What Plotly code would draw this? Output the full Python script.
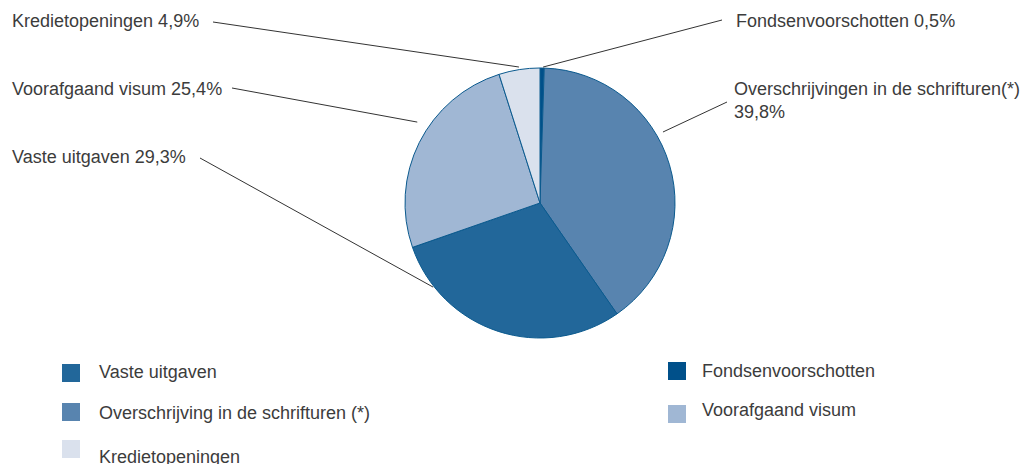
import math
import plotly.graph_objects as go

# ---- data ----
slice_labels = ["Fondsenvoorschotten", "Overschrijvingen in de schrifturen(*)", "Vaste uitgaven",
                "Voorafgaand visum", "Kredietopeningen"]
slice_values = [0.5, 39.8, 29.3, 25.4, 4.9]
slice_colors = ["#00508A", "#5884AF", "#22679A", "#A0B7D4", "#DAE1ED"]
value_text = ["0,5%", "39,8%", "29,3%", "25,4%", "4,9%"]

legend_labels = ["Vaste uitgaven", "Fondsenvoorschotten", "Overschrijving in de schrifturen (*)",
                 "Voorafgaand visum", "Kredietopeningen"]
legend_colors = ["#22679A", "#00508A", "#5884AF", "#A0B7D4", "#DAE1ED"]

# ---- layout (pixel geometry) ----
W, H = 1033, 464
CX, CY, R = 540, 203, 135
FONT = "Liberation Sans, Arial, sans-serif"
FS = 18
TXT = "#3c3c3c"

label_pos = [(734, 21), (732, 100), (10, 157), (10, 89), (10, 21)]
line_start = [(722, 20), (727, 102), (200, 158), (232, 88), (213, 22)]
anchor = [(1.3, 136), (60, 142), (231.8, 136), (303.4, 147), (351.2, 137.6)]

fig = go.Figure()
fig.add_trace(go.Pie(
    labels=slice_labels, values=slice_values, sort=False, direction="clockwise", rotation=0,
    marker=dict(colors=slice_colors, line=dict(color="#0B5A8E", width=1)),
    textinfo="none", hoverinfo="label+percent", showlegend=False,
    domain=dict(x=[(CX - R) / W, (CX + R) / W], y=[1 - (CY + R) / H, 1 - (CY - R) / H]),
))

shapes = []
annotations = []
for i, lab in enumerate(slice_labels):
    ang, rr = anchor[i]
    ex = CX + rr * math.sin(math.radians(ang))
    ey = CY - rr * math.cos(math.radians(ang))
    sx, sy = line_start[i]
    shapes.append(dict(type="line", xref="x", yref="y", x0=sx, y0=sy, x1=ex, y1=ey,
                       line=dict(color="#333333", width=1)))
    tx, ty = label_pos[i]
    text = lab + ("<br>" if i == 1 else " ") + value_text[i]
    annotations.append(dict(x=tx, y=ty, xref="x", yref="y", text=text, showarrow=False,
                            xanchor="left", yanchor="middle", align="left",
                            font=dict(family=FONT, size=FS, color=TXT)))

leg_sq = [(62, 364), (668, 362), (62, 403), (668, 405), (62, 440)]
leg_tx = [(97, 372), (700, 371), (97, 413), (700, 410), (97, 457)]
for i, lab in enumerate(legend_labels):
    x0, y0 = leg_sq[i]
    shapes.append(dict(type="rect", xref="x", yref="y", x0=x0, y0=y0, x1=x0 + 18, y1=y0 + 18,
                       fillcolor=legend_colors[i], line=dict(width=0)))
    tx, ty = leg_tx[i]
    annotations.append(dict(x=tx, y=ty, xref="x", yref="y", text=lab, showarrow=False,
                            xanchor="left", yanchor="middle",
                            font=dict(family=FONT, size=FS, color=TXT)))

fig.update_layout(
    width=W, height=H, margin=dict(l=0, r=0, t=0, b=0),
    paper_bgcolor="white", plot_bgcolor="white",
    xaxis=dict(range=[0, W], visible=False, fixedrange=True, domain=[0, 1]),
    yaxis=dict(range=[H, 0], visible=False, fixedrange=True, domain=[0, 1]),
    shapes=shapes, annotations=annotations, showlegend=False,
)
fig.write_html("out.html", config={"displayModeBar": False},
               post_script="document.body.style.margin='0';document.body.style.overflow='hidden';")
